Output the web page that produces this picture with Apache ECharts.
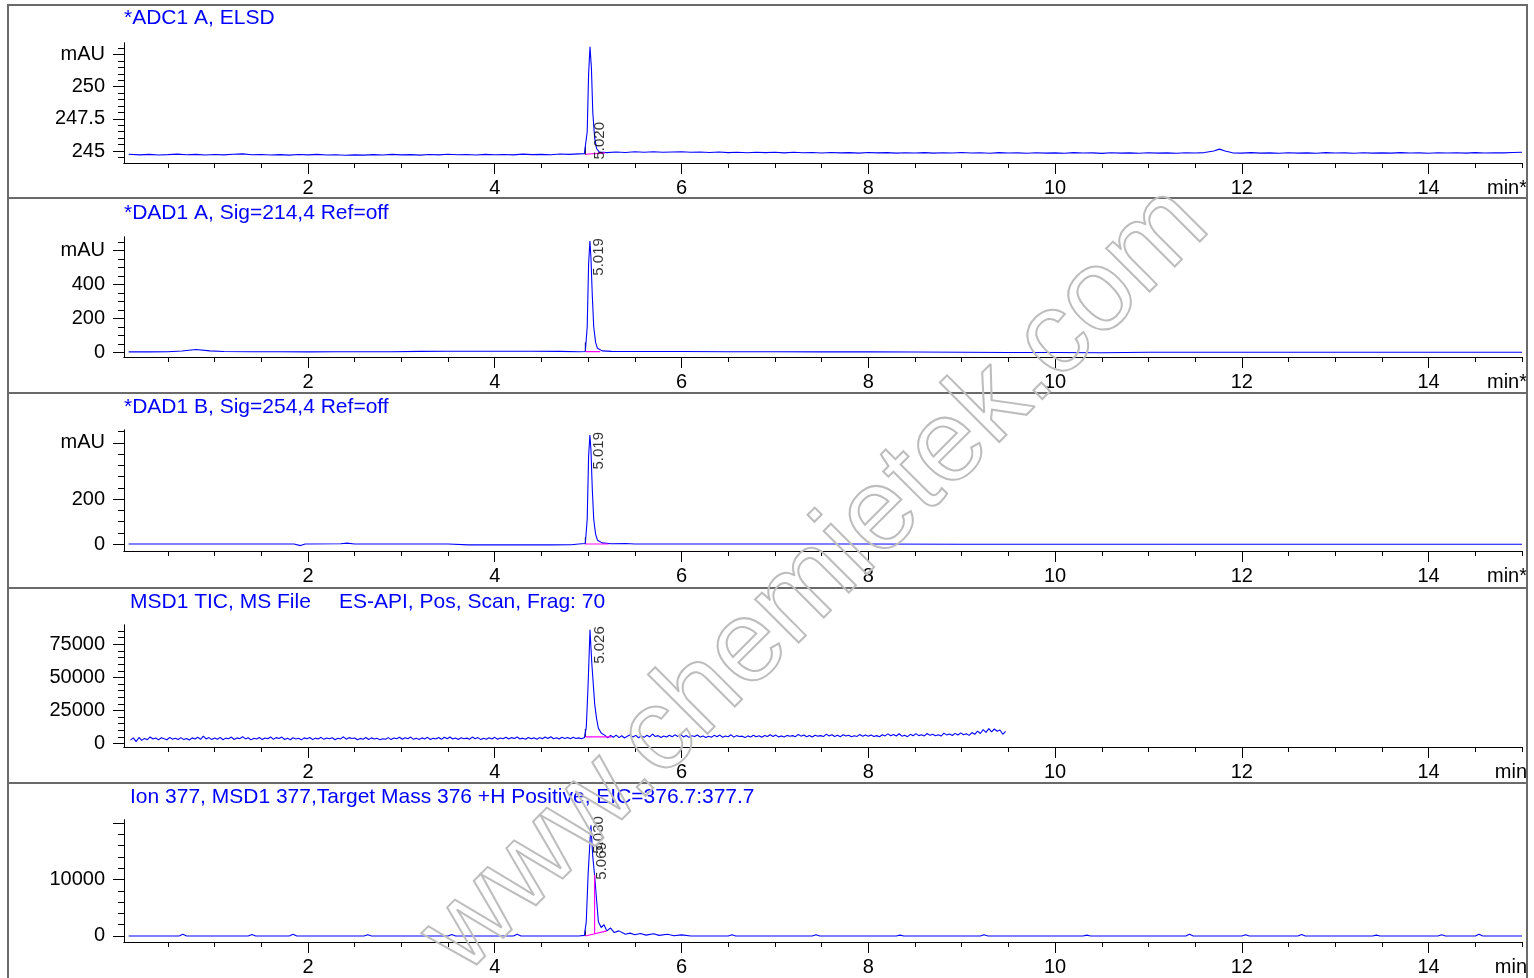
<!DOCTYPE html>
<html>
<head>
<meta charset="utf-8">
<script src="https://cdn.jsdelivr.net/npm/echarts@6/dist/echarts.min.js"></script>
<style>
html,body{margin:0;padding:0;background:#fff;}
#c{width:1534px;height:978px;}
</style>
</head>
<body>
<div id="c"></div>
<script>
// ---------- axis ticks ----------
const xMajorTicks = [2, 4, 6, 8, 10, 12, 14];
const xMinorTicks = [0.5, 1, 1.5, 2, 2.5, 3, 3.5, 4, 4.5, 5, 5.5, 6, 6.5, 7, 7.5, 8, 8.5, 9, 9.5, 10, 10.5, 11, 11.5, 12, 12.5, 13, 13.5, 14, 14.5, 15];

const y1Major = [245, 247.5, 250, 252.5];
const y1Labels = ['245', '247.5', '250', 'mAU'];
const y1Minor = [244.5, 245, 245.5, 246, 246.5, 247, 247.5, 248, 248.5, 249, 249.5, 250, 250.5, 251, 251.5, 252, 252.5, 253];

const y2Major = [0, 200, 400, 600];
const y2Labels = ['0', '200', '400', 'mAU'];
const y2Minor = [0, 50, 100, 150, 200, 250, 300, 350, 400, 450, 500, 550, 600, 650];

const y3Major = [0, 200, 450];
const y3Labels = ['0', '200', 'mAU'];
const y3Minor = [0, 50, 100, 150, 200, 250, 300, 350, 400, 450, 500];

const y4Major = [0, 25000, 50000, 75000];
const y4Labels = ['0', '25000', '50000', '75000'];
const y4Minor = [0, 5000, 10000, 15000, 20000, 25000, 30000, 35000, 40000, 45000, 50000, 55000, 60000, 65000, 70000, 75000, 80000, 85000];

const y5Major = [0, 10000, 20000];
const y5Labels = ['0', '10000', ''];
const y5Minor = [0, 2000, 4000, 6000, 8000, 10000, 12000, 14000, 16000, 18000, 20000];

// ---------- titles ----------
const panelTitles = [
  ['*ADC1 A, ELSD'],
  ['*DAD1 A, Sig=214,4 Ref=off'],
  ['*DAD1 B, Sig=254,4 Ref=off'],
  ['MSD1 TIC, MS File', 'ES-API, Pos, Scan, Frag: 70'],
  ['Ion 377, MSD1 377,Target Mass 376 +H Positive, EIC=376.7:377.7']
];
const unitLabels = ['min*', 'min*', 'min*', 'min', 'min'];

// ---------- traces [time (min), signal] ----------
const elsdTrace = [
  [0.08,244.75],[0.2,244.70],[0.3,244.74],[0.4,244.69],[0.5,244.72],[0.6,244.76],[0.7,244.71],[0.8,244.74],
  [0.9,244.69],[1.0,244.73],[1.1,244.70],[1.2,244.75],[1.3,244.78],[1.4,244.71],[1.5,244.73],[1.6,244.69],
  [1.7,244.72],[1.8,244.68],[1.9,244.73],[2.0,244.70],[2.1,244.74],[2.2,244.69],[2.3,244.71],[2.4,244.67],
  [2.5,244.70],[2.6,244.68],[2.7,244.72],[2.8,244.69],[2.9,244.74],[3.0,244.70],[3.1,244.72],[3.2,244.68],
  [3.3,244.73],[3.4,244.70],[3.5,244.75],[3.6,244.71],[3.7,244.73],[3.8,244.69],[3.9,244.74],[4.0,244.71],
  [4.1,244.73],[4.2,244.70],[4.3,244.76],[4.4,244.72],[4.5,244.74],[4.6,244.71],[4.7,244.77],[4.8,244.74],
  [4.9,244.78],[4.96,244.80],[4.99,246.5],[5.005,251.0],[5.02,253.1],[5.035,251.5],[5.05,248.0],[5.07,246.0],
  [5.09,245.2],[5.12,244.92],[5.2,244.88],[5.3,244.92],[5.4,244.89],[5.5,244.94],[5.6,244.91],[5.7,244.95],
  [5.8,244.90],[5.9,244.93],[6.0,244.94],[6.1,244.90],[6.2,244.93],[6.3,244.89],[6.4,244.92],[6.5,244.88],
  [6.6,244.91],[6.7,244.87],[6.8,244.91],[6.9,244.88],[7.0,244.90],[7.1,244.86],[7.2,244.91],[7.3,244.87],
  [7.4,244.89],[7.5,244.85],[7.6,244.89],[7.7,244.86],[7.8,244.88],[7.9,244.84],[8.0,244.89],[8.1,244.86],
  [8.2,244.88],[8.3,244.84],[8.4,244.87],[8.5,244.85],[8.6,244.88],[8.7,244.84],[8.8,244.87],[8.9,244.85],
  [9.0,244.89],[9.1,244.85],[9.2,244.87],[9.3,244.83],[9.4,244.88],[9.5,244.85],[9.6,244.86],[9.7,244.83],
  [9.8,244.87],[9.9,244.84],[10.0,244.86],[10.1,244.83],[10.2,244.88],[10.3,244.85],[10.4,244.86],[10.5,244.82],
  [10.6,244.87],[10.7,244.84],[10.8,244.86],[10.9,244.83],[11.0,244.87],[11.1,244.84],[11.2,244.86],[11.3,244.83],
  [11.4,244.87],[11.5,244.85],[11.6,244.88],[11.7,245.0],[11.76,245.15],[11.82,245.0],[11.9,244.86],[12.0,244.84],
  [12.1,244.88],[12.2,244.84],[12.3,244.86],[12.4,244.83],[12.5,244.87],[12.6,244.84],[12.7,244.86],[12.8,244.83],
  [12.9,244.88],[13.0,244.85],[13.1,244.86],[13.2,244.83],[13.3,244.87],[13.4,244.84],[13.5,244.86],[13.6,244.84],
  [13.7,244.88],[13.8,244.85],[13.9,244.86],[14.0,244.83],[14.1,244.87],[14.2,244.85],[14.3,244.87],[14.4,244.84],
  [14.5,244.88],[14.6,244.85],[14.7,244.87],[14.8,244.86],[14.9,244.89],[15.0,244.90]
];

const dad214Trace = [
  [0.08,4],[0.3,4],[0.5,5],[0.65,9],[0.8,18],[0.95,10],[1.1,6],[1.4,5],[1.7,5],[2.0,4],[2.3,5],[2.6,5],
  [2.9,5],[3.2,7],[3.5,8],[3.8,8],[4.1,8],[4.4,8],[4.7,7],[4.9,5],[4.97,6],[4.99,150],[5.005,520],[5.019,655],
  [5.03,560],[5.045,330],[5.06,150],[5.08,60],[5.1,25],[5.15,10],[5.25,7],[5.5,6],[6.0,6],[6.5,5],[7.0,5],
  [7.5,4],[8.0,4],[8.5,3],[9.0,2],[9.5,0],[10.0,0],[10.5,-1],[11.0,2],[11.5,2],[12.0,2],[12.5,2],[13.0,2],
  [13.5,2],[14.0,2],[14.5,2],[15.0,2]
];

const dad254Trace = [
  [0.08,1],[0.5,1],[1.0,1],[1.5,1],[1.85,1],[1.92,-6],[1.97,1],[2.35,2],[2.42,5],[2.5,1],[3.0,1],[3.5,1],
  [3.72,-3],[4.0,-3],[4.3,-3],[4.6,-3],[4.82,-2],[4.9,1],[4.97,3],[4.99,110],[5.005,390],[5.019,485],
  [5.03,420],[5.045,240],[5.06,110],[5.08,45],[5.1,18],[5.15,6],[5.25,2],[5.4,3],[5.5,1],[6.0,1],[7.0,1],
  [8.0,1],[9.0,0],[10.0,0],[11.0,0],[12.0,0],[13.0,0],[14.0,0],[15.0,0]
];

const ticTrace = [
  [0.1,2600],[0.13,4300],[0.16,1500],[0.19,4600],[0.22,2400],[0.25,3900],[0.28,2900],[0.31,5000],[0.34,3400],
  [0.37,4200],[0.4,2800],[0.43,4400],[0.46,3600],[0.49,2900],[0.52,4700],[0.55,3300],[0.58,4000],[0.61,3100],
  [0.64,4500],[0.67,3000],[0.7,3800],[0.73,2700],[0.76,4300],[0.79,3500],[0.82,4800],[0.85,3200],[0.88,5600],
  [0.91,3400],[0.94,4500],[0.97,3000],[1.0,4200],[1.03,3300],[1.06,4700],[1.09,2900],[1.12,4100],[1.15,3600],
  [1.18,4900],[1.21,3100],[1.24,4300],[1.27,3700],[1.3,5200],[1.33,3500],[1.36,4400],[1.39,2800],[1.42,4000],
  [1.45,3400],[1.48,4600],[1.51,3000],[1.54,4200],[1.57,3600],[1.6,5000],[1.63,3200],[1.66,4500],[1.69,3800],
  [1.72,4900],[1.75,3100],[1.78,4100],[1.81,2900],[1.84,4400],[1.87,3500],[1.9,4000],[1.93,2800],[1.96,4300],
  [1.99,3700],[2.02,4600],[2.05,3000],[2.08,4100],[2.11,3400],[2.14,4700],[2.17,3200],[2.2,4200],[2.23,3600],
  [2.26,4400],[2.29,2900],[2.32,4000],[2.35,3500],[2.38,5100],[2.41,3300],[2.44,4500],[2.47,3800],[2.5,4200],
  [2.53,2900],[2.56,3900],[2.59,3300],[2.62,4600],[2.65,3100],[2.68,4300],[2.71,3500],[2.74,4000],[2.77,2800],
  [2.8,3700],[2.83,3200],[2.86,4500],[2.89,3000],[2.92,4200],[2.95,3600],[2.98,4800],[3.01,3300],[3.04,4400],
  [3.07,3700],[3.1,4900],[3.13,3200],[3.16,4100],[3.19,3000],[3.22,4300],[3.25,3500],[3.28,4700],[3.31,3100],
  [3.34,4000],[3.37,3400],[3.4,4600],[3.43,3200],[3.46,4800],[3.49,3600],[3.52,5000],[3.55,3400],[3.58,4200],
  [3.61,3100],[3.64,4400],[3.67,3600],[3.7,4100],[3.73,3300],[3.76,4900],[3.79,3700],[3.82,4500],[3.85,3000],
  [3.88,4000],[3.91,3200],[3.94,4400],[3.97,3500],[4.0,4700],[4.03,3300],[4.06,4200],[4.09,3600],[4.12,4800],
  [4.15,3400],[4.18,4500],[4.21,3800],[4.24,5000],[4.27,3500],[4.3,4100],[4.33,3200],[4.36,4600],[4.39,3700],
  [4.42,4300],[4.45,3300],[4.48,4500],[4.51,3600],[4.54,4900],[4.57,3800],[4.6,5100],[4.63,3600],[4.66,4400],
  [4.69,3500],[4.72,4800],[4.75,3900],[4.78,4600],[4.81,3600],[4.84,4700],[4.87,3800],[4.9,4300],[4.93,3600],
  [4.96,4500],[4.98,12000],[5.0,45000],[5.02,86000],[5.04,60000],[5.07,30000],[5.09,19000],[5.11,11500],
  [5.14,8000],[5.18,6200],[5.21,4300],[5.24,6100],[5.27,4800],[5.3,6400],[5.33,4500],[5.36,5900],[5.39,4200],
  [5.42,5600],[5.45,6700],[5.48,4900],[5.51,6200],[5.54,4400],[5.57,5800],[5.6,4700],[5.63,6300],[5.66,5000],
  [5.69,7200],[5.72,5300],[5.75,6000],[5.78,4600],[5.81,5700],[5.84,4900],[5.87,6300],[5.9,5100],[5.93,6600],
  [5.96,5400],[5.99,6900],[6.02,5000],[6.05,6100],[6.08,4700],[6.11,5900],[6.14,5300],[6.17,6500],[6.2,4900],
  [6.23,5800],[6.26,4600],[6.29,5500],[6.32,4800],[6.35,6200],[6.38,5100],[6.41,6400],[6.44,4800],[6.47,5700],
  [6.5,5200],[6.53,6600],[6.56,4900],[6.59,6000],[6.62,5300],[6.65,5600],[6.68,4500],[6.71,5800],[6.74,5000],
  [6.77,6300],[6.8,5200],[6.83,5900],[6.86,4800],[6.89,6100],[6.92,5400],[6.95,6700],[6.98,5300],[7.01,6400],
  [7.04,5000],[7.07,5800],[7.1,4900],[7.13,6200],[7.16,5500],[7.19,6000],[7.22,5200],[7.25,6900],[7.28,5600],
  [7.31,6500],[7.34,5100],[7.37,6100],[7.4,4900],[7.43,6300],[7.46,5600],[7.49,6000],[7.52,5300],[7.55,7100],
  [7.58,5700],[7.61,6600],[7.64,5400],[7.67,6200],[7.7,5200],[7.73,6600],[7.76,5700],[7.79,6300],[7.82,5100],
  [7.85,5900],[7.88,5400],[7.91,6800],[7.94,5600],[7.97,6500],[8.0,5500],[8.03,6400],[8.06,5300],[8.09,6000],
  [8.12,5100],[8.15,6700],[8.18,5800],[8.21,7300],[8.24,5900],[8.27,6800],[8.3,5700],[8.33,7400],[8.36,5600],
  [8.39,6300],[8.42,5200],[8.45,7000],[8.48,5900],[8.51,7500],[8.54,6000],[8.57,6700],[8.6,5800],[8.63,7600],
  [8.66,6200],[8.69,7100],[8.72,5900],[8.75,6600],[8.78,5700],[8.81,7900],[8.84,6400],[8.87,7200],[8.9,6100],
  [8.93,7700],[8.96,6500],[8.99,8100],[9.02,6700],[9.05,7400],[9.08,6200],[9.11,8300],[9.14,7000],[9.17,9400],
  [9.2,7600],[9.23,10600],[9.26,8400],[9.29,11300],[9.32,8800],[9.35,11000],[9.38,9300],[9.41,10200],[9.44,7000],
  [9.47,9300]
];

const eicTrace = [
  [0.08,0],[0.62,0],[0.66,300],[0.7,0],[1.36,0],[1.4,250],[1.44,0],[1.8,0],[1.84,300],[1.88,0],
  [2.6,0],[2.64,200],[2.68,0],[3.5,0],[3.54,250],[3.58,0],[4.2,0],[4.24,300],[4.28,0],[4.9,0],[4.96,100],
  [4.98,2500],[5.0,11000],[5.03,19600],[5.05,14000],[5.069,10800],[5.09,6500],[5.11,2500],[5.14,1500],
  [5.17,2000],[5.2,900],[5.24,1400],[5.28,600],[5.33,900],[5.4,300],[5.45,500],[5.5,200],[5.56,450],
  [5.62,150],[5.7,400],[5.76,100],[5.85,300],[5.92,50],[6.0,200],[6.1,0],[6.5,0],[6.54,200],[6.58,0],
  [7.4,0],[7.44,200],[7.48,0],[8.3,0],[8.34,150],[8.38,0],[9.2,0],[9.24,200],[9.28,0],[10.3,0],[10.34,150],
  [10.38,0],[11.4,0],[11.44,300],[11.48,0],[12.0,0],[12.04,200],[12.08,0],[12.6,0],[12.64,250],[12.68,0],
  [13.4,0],[13.44,150],[13.48,0],[14.1,0],[14.14,200],[14.18,0],[14.5,0],[14.54,300],[14.58,0],[15.0,0]
];

// integration baselines, start markers and apex labels
const intBaselines = [
  [[4.97,244.75],[5.18,244.86]],
  [[4.97,5],[5.13,5]],
  [[4.97,1],[5.22,1]],
  [[4.97,5000],[5.25,5000]],
  [[4.97,0],[5.2,900]]
];
const dropLines = [null, null, null, null, [[5.069,400],[5.069,10800]]];
const startMarks = [
  [[4.97,244.7],[4.97,245.3]],
  [[4.97,5],[4.97,60]],
  [[4.97,0],[4.97,30]],
  [[4.97,5000],[4.97,11000]],
  [[4.97,0],[4.97,1000]]
];
const peakLabels = [
  [[5.13,245.8,'5.020']],
  [[5.11,562,'5.019']],
  [[5.11,415,'5.019']],
  [[5.13,74500,'5.026']],
  [[5.12,17900,'5.030'],[5.15,13300,'5.069']]
];

const traces = [elsdTrace, dad214Trace, dad254Trace, ticTrace, eicTrace];
const yMajors = [y1Major, y2Major, y3Major, y4Major, y5Major];
const yLabelsAll = [y1Labels, y2Labels, y3Labels, y4Labels, y5Labels];
const yMinors = [y1Minor, y2Minor, y3Minor, y4Minor, y5Minor];

// ---------- layout ----------
const yRanges = [[244.07, 253.4], [-26, 679], [-30, 507], [-2600, 89600], [-1070, 20540]];
const gridTops = [43, 237, 430, 625, 820];
const gridHeights = [120, 120, 121, 122, 122];
const titleY = [18, 213, 407, 602, 797];
const titleX = [[124], [124], [124], [130, 339], [130]];
const sepY = [198, 393, 588, 783];

const FONT = '"Liberation Sans", Arial, sans-serif';
const BLUE = '#0000ff';

const grids = [], xAxes = [], yAxes = [], series = [], graphics = [];

for (let i = 0; i < 5; i++) {
  grids.push({left: 124, width: 1398, top: gridTops[i], height: gridHeights[i], containLabel: false});
  const xBase = {
    type: 'value', gridIndex: i, min: 0.03, max: 15.0, position: 'bottom',
    splitLine: {show: false},
    axisLine: {show: true, onZero: false, lineStyle: {color: '#000', width: 1}}
  };
  xAxes.push(Object.assign({}, xBase, {
    axisTick: {show: true, length: 11, customValues: xMajorTicks, lineStyle: {color: '#000'}},
    axisLabel: {show: true, customValues: xMajorTicks, margin: 15, color: '#000', fontSize: 20, fontFamily: FONT}
  }));
  xAxes.push(Object.assign({}, xBase, {
    axisTick: {show: true, length: 5, customValues: xMinorTicks, lineStyle: {color: '#000'}},
    axisLabel: {show: false}
  }));
  const yBase = {
    type: 'value', gridIndex: i, min: yRanges[i][0], max: yRanges[i][1], position: 'left',
    splitLine: {show: false},
    axisLine: {show: true, onZero: false, lineStyle: {color: '#000', width: 1}}
  };
  const maj = yMajors[i], labs = yLabelsAll[i];
  yAxes.push(Object.assign({}, yBase, {
    axisTick: {show: true, length: 11, customValues: maj, lineStyle: {color: '#000'}},
    axisLabel: {
      show: true, customValues: maj, margin: 19, color: '#000', fontSize: 20, fontFamily: FONT,
      formatter: function (v) {
        for (let k = 0; k < maj.length; k++) if (Math.abs(maj[k] - v) < 1e-6 * Math.max(1, Math.abs(v))) return labs[k];
        return '';
      }
    }
  }));
  yAxes.push(Object.assign({}, yBase, {
    axisTick: {show: true, length: 6, customValues: yMinors[i], lineStyle: {color: '#000'}},
    axisLabel: {show: false}
  }));

  const xi = 2 * i, yi = 2 * i;
  series.push({
    type: 'line', xAxisIndex: xi, yAxisIndex: yi, data: traces[i], showSymbol: false, symbol: 'none',
    lineStyle: {color: BLUE, width: 1.1}, animation: false, silent: true, z: 3
  });
  series.push({
    type: 'line', xAxisIndex: xi, yAxisIndex: yi, data: intBaselines[i], symbol: 'none',
    lineStyle: {color: '#ff00ff', width: 1.2}, animation: false, silent: true, z: 4
  });
  if (dropLines[i]) {
    series.push({
      type: 'line', xAxisIndex: xi, yAxisIndex: yi, data: dropLines[i], symbol: 'none',
      lineStyle: {color: '#ff00ff', width: 1.2}, animation: false, silent: true, z: 4
    });
  }
  series.push({
    type: 'line', xAxisIndex: xi, yAxisIndex: yi, data: startMarks[i], symbol: 'none',
    lineStyle: {color: '#000', width: 1}, animation: false, silent: true, z: 2
  });
  series.push({
    type: 'scatter', xAxisIndex: xi, yAxisIndex: yi, symbolSize: 0,
    data: peakLabels[i].map(p => ({value: [p[0], p[1]], name: p[2]})),
    label: {
      show: true, position: 'inside', rotate: 90, formatter: '{b}', color: '#000',
      fontSize: 15, fontFamily: FONT, align: 'center', verticalAlign: 'middle'
    },
    animation: false, silent: true, z: 5
  });

  // titles
  panelTitles[i].forEach((t, k) => {
    graphics.push({
      type: 'text', x: titleX[i][k], y: titleY[i], silent: true,
      style: {text: t, fill: BLUE, font: '21px ' + FONT, align: 'left', verticalAlign: 'middle'}
    });
  });
  // time unit at right end of x axis
  graphics.push({
    type: 'text', x: 1527, y: gridTops[i] + gridHeights[i] + 25, silent: true,
    style: {text: unitLabels[i], fill: '#000', font: '20px ' + FONT, align: 'right', verticalAlign: 'middle'}
  });
}

// frame and panel separators
graphics.push({
  type: 'rect', silent: true, shape: {x: 8, y: 5, width: 1519, height: 1000},
  style: {fill: 'none', stroke: '#6a6a6a', lineWidth: 2}, z: 10
});
sepY.forEach(y => graphics.push({
  type: 'line', silent: true, shape: {x1: 8, y1: y, x2: 1527, y2: y},
  style: {stroke: '#6a6a6a', lineWidth: 2}, z: 10
}));
// watermark
graphics.push({
  type: 'text', x: 816, y: 580, rotation: Math.PI / 4, silent: true, z: 20,
  style: {
    text: 'www.chemietek.com', x: 0, y: 0, align: 'center', verticalAlign: 'middle',
    font: '116px ' + FONT, fill: 'rgba(0,0,0,0)', stroke: '#bdbdbd', lineWidth: 2
  }
});

const chart = echarts.init(document.getElementById('c'), null, {renderer: 'canvas'});
chart.setOption({
  animation: false,
  backgroundColor: '#fff',
  grid: grids,
  xAxis: xAxes,
  yAxis: yAxes,
  series: series,
  graphic: graphics
});
</script>
</body>
</html>
